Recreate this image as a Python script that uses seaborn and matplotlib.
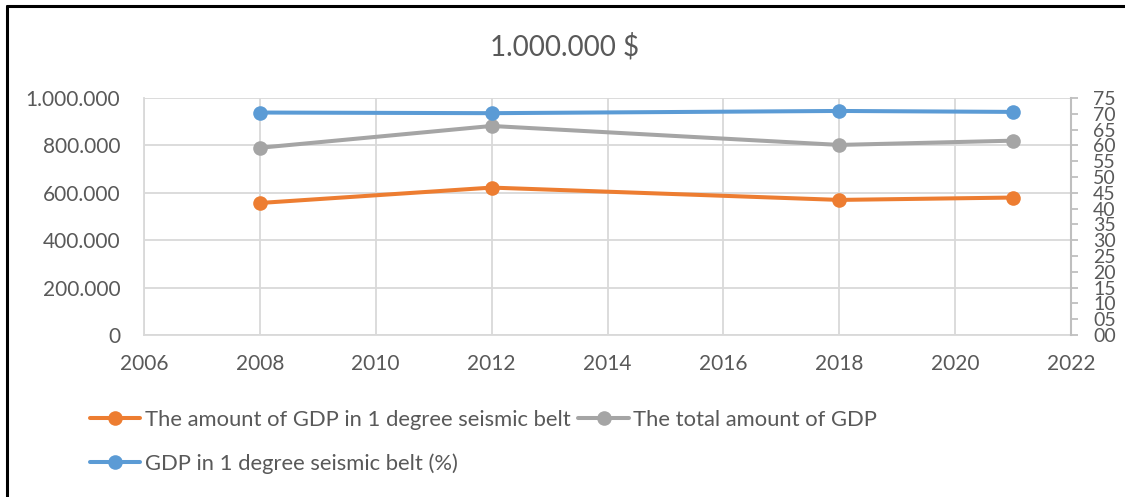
import matplotlib
matplotlib.use("Agg")
import matplotlib.pyplot as plt
from matplotlib.lines import Line2D
from matplotlib.ticker import FuncFormatter, MultipleLocator
import seaborn as sns

# Survey years
years = [2008, 2012, 2018, 2021]
# GDP located in the 1-degree seismic belt (1.000.000 $)
gdp_belt = [557000, 622000, 570000, 580000]
# Total GDP (1.000.000 $)
gdp_total = [790000, 882000, 802000, 820000]
# Share of GDP in the 1-degree seismic belt (%)
gdp_belt_pct = [70.4, 70.2, 70.9, 70.6]

label_belt = "The amount of GDP in 1 degree seismic belt"
label_total = "The total amount of GDP"
label_pct = "GDP in 1 degree seismic belt (%)"
title = "1.000.000 $"

ORANGE = "#ED7D31"
GREY = "#A5A5A5"
BLUE = "#5B9BD5"
TEXT = "#595959"
GRID = "#D9D9D9"

sns.set_theme(style="white")
plt.rcParams["font.family"] = ["Lato", "DejaVu Sans"]

W, H = 1125, 497
fig = plt.figure(figsize=(W / 100, H / 100), dpi=100)

def px(x0, y0, x1, y1):
    return [x0 / W, 1 - y1 / H, (x1 - x0) / W, (y1 - y0) / H]

ax = fig.add_axes(px(144, 98, 1071, 335))
ax2 = ax.twinx()

line_kw = dict(marker="o", markersize=10.5, linewidth=2.9, markeredgewidth=0)
sns.lineplot(x=years, y=gdp_belt, ax=ax, color=ORANGE, **line_kw)
sns.lineplot(x=years, y=gdp_total, ax=ax, color=GREY, **line_kw)
sns.lineplot(x=years, y=gdp_belt_pct, ax=ax2, color=BLUE, **line_kw)

# Primary axis
ax.set_xlim(2006, 2022)
ax.set_ylim(0, 1000000)
ax.xaxis.set_major_locator(MultipleLocator(2))
ax.yaxis.set_major_locator(MultipleLocator(200000))
ax.yaxis.set_major_formatter(FuncFormatter(lambda v, p: f"{int(round(v)):,}".replace(",", ".")))
ax.grid(True, color=GRID, linewidth=1.3)
ax.set_axisbelow(True)
ax.tick_params(axis="both", length=0, labelsize=15, labelcolor=TEXT)
ax.tick_params(axis="x", pad=14)
ax.tick_params(axis="y", pad=17)
for side in ("top", "right"):
    ax.spines[side].set_visible(False)
ax.spines["left"].set_color(GRID)
ax.spines["bottom"].set_color(GRID)
ax.spines["left"].set_linewidth(1.3)
ax.spines["bottom"].set_linewidth(1.3)

# Secondary axis (percent)
ax2.set_ylim(0, 75)
ax2.yaxis.set_major_locator(MultipleLocator(5))
ax2.yaxis.set_major_formatter(FuncFormatter(lambda v, p: f"{int(round(v)):02d}"))
ax2.tick_params(axis="y", length=5, width=1.3, color="#BFBFBF", labelsize=14,
                labelcolor=TEXT, pad=11)
for side in ("top", "left", "bottom"):
    ax2.spines[side].set_visible(False)
ax2.spines["right"].set_color("#BFBFBF")
ax2.spines["right"].set_linewidth(1.5)
ax2.set_xlabel("")
ax2.set_ylabel("")
ax.set_xlabel("")
ax.set_ylabel("")

fig.text(565 / W, 1 - 47 / H, title, ha="center", va="center", fontsize=20, color=TEXT)

def handle(c):
    return Line2D([], [], color=c, marker="o", markersize=10.5, linewidth=2.9,
                  markeredgewidth=0)

leg = fig.legend(
    [handle(ORANGE), handle(BLUE), handle(GREY)],
    [label_belt, label_pct, label_total],
    ncol=2, loc="upper left", bbox_to_anchor=(90 / W, 1 - 410 / H),
    frameon=False, fontsize=15.8, handlelength=2.3, handletextpad=0.2,
    columnspacing=0.35, labelspacing=1.05, borderpad=0, borderaxespad=0,
)
for t in leg.get_texts():
    t.set_color(TEXT)

# Outer frame: top and left edges
fig.add_artist(Line2D([6.5 / W, 1], [1 - 6 / H, 1 - 6 / H], color="black", linewidth=2.2,
                      transform=fig.transFigure))
fig.add_artist(Line2D([6.5 / W, 6.5 / W], [0, 1 - 6 / H], color="black", linewidth=2.2,
                      transform=fig.transFigure))

fig.savefig("out.png", dpi=100)
